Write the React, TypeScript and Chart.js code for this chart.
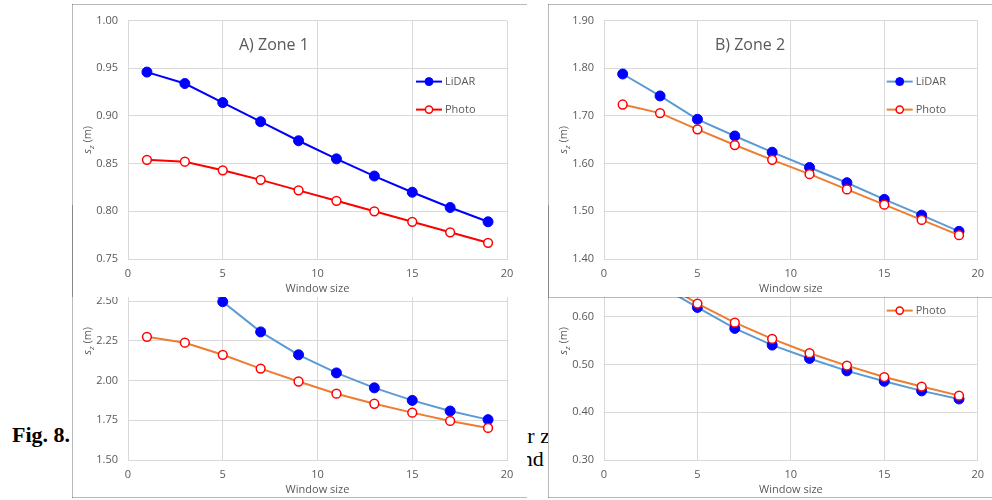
import React, { useEffect, useRef } from "react";
import { Chart, registerables } from "chart.js";

Chart.register(...registerables);

// ---------- data ----------
const windowSizes = [1, 3, 5, 7, 9, 11, 13, 15, 17, 19];
const xTickValues = [0, 5, 10, 15, 20];

const zone1Lidar = [0.946, 0.934, 0.914, 0.894, 0.874, 0.855, 0.837, 0.82, 0.804, 0.789];
const zone1Photo = [0.854, 0.852, 0.843, 0.833, 0.822, 0.811, 0.8, 0.789, 0.778, 0.767];
const zone1Ticks = [0.75, 0.8, 0.85, 0.9, 0.95, 1.0];

const zone2Lidar = [1.788, 1.742, 1.693, 1.658, 1.624, 1.592, 1.56, 1.525, 1.492, 1.458];
const zone2Photo = [1.724, 1.706, 1.672, 1.639, 1.608, 1.578, 1.546, 1.514, 1.482, 1.45];
const zone2Ticks = [1.4, 1.5, 1.6, 1.7, 1.8, 1.9];

const zone3Lidar = [2.98, 2.74, 2.496, 2.306, 2.162, 2.048, 1.954, 1.875, 1.808, 1.754];
const zone3Photo = [2.275, 2.238, 2.162, 2.075, 1.994, 1.917, 1.854, 1.798, 1.746, 1.702];
const zone3Ticks = [1.5, 1.75, 2.0, 2.25, 2.5, 2.75, 3.0];

const zone4Lidar = [0.74, 0.665, 0.62, 0.576, 0.541, 0.513, 0.487, 0.465, 0.445, 0.428];
const zone4Photo = [0.745, 0.675, 0.628, 0.588, 0.554, 0.524, 0.498, 0.474, 0.454, 0.435];
const zone4Ticks = [0.3, 0.4, 0.5, 0.6, 0.7, 0.8];

const seriesNames = ["LiDAR", "Photo"];
const xTitle = "Window size";

// ---------- styles ----------
const FAM = "'Open Sans', sans-serif";
const TEXT = "#595959";
const GRID = "#d9d9d9";
const FRAME = "rgba(0,0,0,0.27)";

type PanelSpec = {
  left: number;
  top: number;
  width: number;
  height: number;
  z: number;
  padRight: number;
  title: string;
  showLegend: boolean;
  ticks: number[];
  lidar: number[];
  photo: number[];
  lidarLine: string;
  photoLine: string;
};

const panels: PanelSpec[] = [
  {
    left: 548, top: 205, width: 444, height: 293, z: 1, padRight: 10,
    title: "", showLegend: true, ticks: zone4Ticks, lidar: zone4Lidar, photo: zone4Photo,
    lidarLine: "#5b9bd5", photoLine: "#ed7d31",
  },
  {
    left: 72, top: 205, width: 455, height: 293, z: 1, padRight: 20,
    title: "", showLegend: false, ticks: zone3Ticks, lidar: zone3Lidar, photo: zone3Photo,
    lidarLine: "#5b9bd5", photoLine: "#ed7d31",
  },
  {
    left: 72, top: 4, width: 455, height: 293, z: 2, padRight: 20,
    title: "A) Zone 1", showLegend: true, ticks: zone1Ticks, lidar: zone1Lidar, photo: zone1Photo,
    lidarLine: "#0000ff", photoLine: "#ff0000",
  },
  {
    left: 548, top: 4, width: 444, height: 293, z: 2, padRight: 10,
    title: "B) Zone 2", showLegend: true, ticks: zone2Ticks, lidar: zone2Lidar, photo: zone2Photo,
    lidarLine: "#5b9bd5", photoLine: "#ed7d31",
  },
];

const panelDecor = {
  id: "panelDecor",
  afterDraw(chart: any, _args: any, opts: any) {
    const { ctx, chartArea: a } = chart;
    // y axis title  s_z (m)
    ctx.save();
    ctx.fillStyle = TEXT;
    ctx.translate(15, (a.top + a.bottom) / 2);
    ctx.rotate(-Math.PI / 2);
    const fMain = `11px ${FAM}`;
    const fIt = `italic 11px ${FAM}`;
    const fSub = `italic 8px ${FAM}`;
    ctx.font = fIt;
    const w1 = ctx.measureText("s").width;
    ctx.font = fSub;
    const w2 = ctx.measureText("z").width;
    ctx.font = fMain;
    const w3 = ctx.measureText(" (m)").width;
    let x = -(w1 + w2 + w3) / 2;
    ctx.textAlign = "left";
    ctx.textBaseline = "alphabetic";
    ctx.font = fIt;
    ctx.fillText("s", x, 4);
    x += w1;
    ctx.font = fSub;
    ctx.fillText("z", x, 6.5);
    x += w2;
    ctx.font = fMain;
    ctx.fillText(" (m)", x, 4);
    ctx.restore();

    // panel title
    if (opts.title) {
      ctx.save();
      ctx.fillStyle = TEXT;
      ctx.font = `16px ${FAM}`;
      ctx.textAlign = "left";
      ctx.textBaseline = "middle";
      ctx.fillText(opts.title, a.left + 111, a.top + 25);
      ctx.restore();
    }

    // inner legend
    if (opts.legend) {
      chart.data.datasets.forEach((ds: any, i: number) => {
        const y = a.top + 61 + i * 28;
        const x0 = a.right - 91;
        ctx.save();
        ctx.strokeStyle = ds.borderColor;
        ctx.lineWidth = 2;
        ctx.beginPath();
        ctx.moveTo(x0, y);
        ctx.lineTo(x0 + 26, y);
        ctx.stroke();
        ctx.beginPath();
        ctx.arc(x0 + 13, y, i === 0 ? 4 : 3.6, 0, Math.PI * 2);
        ctx.fillStyle = ds.pointBackgroundColor;
        ctx.fill();
        ctx.lineWidth = ds.pointBorderWidth;
        ctx.strokeStyle = ds.pointBorderColor;
        ctx.stroke();
        ctx.fillStyle = TEXT;
        ctx.font = `11px ${FAM}`;
        ctx.textAlign = "left";
        ctx.textBaseline = "middle";
        ctx.fillText(ds.label, x0 + 29, y);
        ctx.restore();
      });
    }
  },
};

function PanelChart({ spec }: { spec: PanelSpec }) {
  const ref = useRef<HTMLCanvasElement>(null);
  useEffect(() => {
    if (!ref.current) return;
    const toPts = (arr: number[]) => windowSizes.map((x, i) => ({ x, y: arr[i] }));
    const chart = new Chart(ref.current, {
      type: "line",
      data: {
        datasets: [
          {
            label: seriesNames[0],
            data: toPts(spec.lidar),
            borderColor: spec.lidarLine,
            borderWidth: 2,
            pointRadius: 5,
            pointBackgroundColor: "#0000ff",
            pointBorderColor: "#0000ff",
            pointBorderWidth: 1,
            tension: 0,
            order: 1,
          },
          {
            label: seriesNames[1],
            data: toPts(spec.photo),
            borderColor: spec.photoLine,
            borderWidth: 2,
            pointRadius: 4.4,
            pointBackgroundColor: "#ffffff",
            pointBorderColor: "#ff0000",
            pointBorderWidth: 1.5,
            tension: 0,
            order: 0,
          },
        ],
      },
      options: {
        animation: false,
        responsive: false,
        events: [],
        layout: { padding: { top: 14, left: 0, right: spec.padRight, bottom: 2 } },
        plugins: {
          legend: { display: false },
          tooltip: { enabled: false },
          panelDecor: { title: spec.title, legend: spec.showLegend },
        } as any,
        scales: {
          x: {
            type: "linear",
            min: 0,
            max: 20,
            afterBuildTicks: (s: any) => {
              s.ticks = xTickValues.map((value) => ({ value }));
            },
            afterFit: (s: any) => {
              s.height = 36;
            },
            grid: { color: GRID, drawTicks: false, lineWidth: 1 },
            border: { color: GRID },
            ticks: {
              padding: 8,
              color: TEXT,
              font: { family: FAM, size: 11 },
              callback: (v: any) => String(v),
            },
            title: {
              display: true,
              text: xTitle,
              color: TEXT,
              font: { family: FAM, size: 11 },
              padding: 0,
            },
          },
          y: {
            type: "linear",
            min: spec.ticks[0],
            max: spec.ticks[spec.ticks.length - 1],
            afterBuildTicks: (s: any) => {
              s.ticks = spec.ticks.map((value) => ({ value }));
            },
            afterFit: (s: any) => {
              s.width = 56;
            },
            grid: { color: GRID, drawTicks: false, lineWidth: 1 },
            border: { color: GRID },
            ticks: {
              padding: 10,
              color: TEXT,
              font: { family: FAM, size: 11 },
              callback: (v: any) => Number(v).toFixed(2),
            },
          },
        },
      } as any,
      plugins: [panelDecor as any],
    });
    return () => chart.destroy();
  }, [spec]);
  return (
    <div
      style={{
        position: "absolute",
        left: spec.left,
        top: spec.top,
        width: spec.width,
        height: spec.height,
        background: "#ffffff",
        zIndex: spec.z,
        overflow: "hidden",
      }}
    >
      <canvas
        ref={ref}
        width={spec.width}
        height={spec.height}
        style={{ display: "block", width: spec.width, height: spec.height }}
      />
    </div>
  );
}

const frameLines = [
  // top-left panel
  { l: 72, t: 4, w: 455, h: 1 },
  { l: 72, t: 4, w: 1, h: 293 },
  // top-right panel
  { l: 548, t: 4, w: 444, h: 1 },
  { l: 548, t: 4, w: 1, h: 293 },
  { l: 548, t: 297, w: 444, h: 1 },
  // bottom-left panel
  { l: 72, t: 205, w: 1, h: 293 },
  { l: 72, t: 497, w: 455, h: 1 },
  // bottom-right panel
  { l: 548, t: 205, w: 1, h: 293 },
  { l: 548, t: 497, w: 444, h: 1 },
];

export default function App() {
  const serif = "'Liberation Serif', 'Times New Roman', serif";
  return (
    <div
      style={{
        position: "absolute",
        left: 0,
        top: 0,
        width: 992,
        height: 500,
        overflow: "hidden",
        background: "#ffffff",
      }}
    >
      <div
        style={{
          position: "absolute", left: 12, top: 424, fontFamily: serif, fontWeight: "bold",
          fontSize: 22, lineHeight: "22px", whiteSpace: "nowrap", color: "#000", zIndex: 0,
        }}
      >
        Fig. 8.
      </div>
      <div
        style={{
          position: "absolute", left: 509, top: 425, fontFamily: serif, fontSize: 22,
          lineHeight: "22px", whiteSpace: "nowrap", color: "#000", zIndex: 0,
        }}
      >
        for zones
      </div>
      <div
        style={{
          position: "absolute", left: 512, top: 448, fontFamily: serif, fontSize: 22,
          lineHeight: "22px", whiteSpace: "nowrap", color: "#000", zIndex: 0,
        }}
      >
        and
      </div>
      {panels.map((p, i) => (
        <PanelChart key={i} spec={p} />
      ))}
      {frameLines.map((f, i) => (
        <div
          key={"f" + i}
          style={{
            position: "absolute", left: f.l, top: f.t, width: f.w, height: f.h,
            background: FRAME, zIndex: 5,
          }}
        />
      ))}
    </div>
  );
}
